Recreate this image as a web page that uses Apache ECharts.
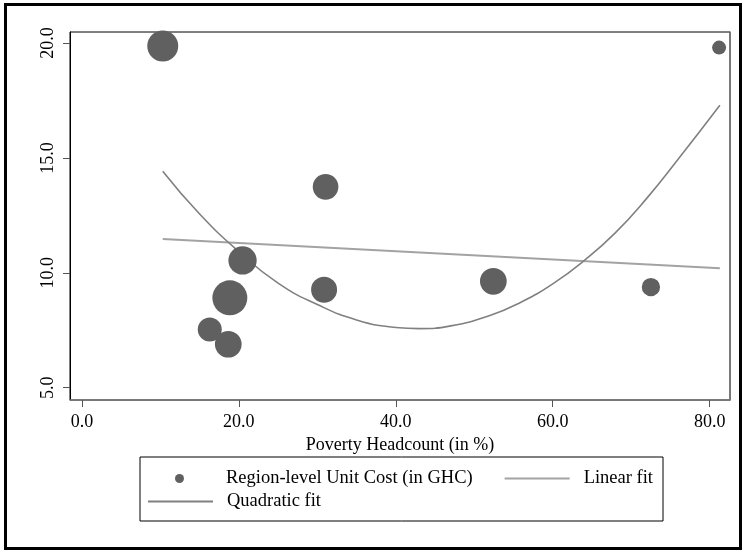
<!doctype html>
<html>
	<head>
		<meta charset="utf-8">
		<title>Unit cost vs poverty headcount</title>
		<style>
			html, body { margin: 0; padding: 0; background: #fff; }
			#chart { width: 746px; height: 555px; }
		</style>
	</head>
	<body>
		<script src="https://cdn.jsdelivr.net/npm/echarts@6/dist/echarts.min.js"></script>

		<div id="chart"></div>

		<script>
			// region-level points (x = poverty headcount %, y = unit cost GHC, w = bubble weight)
			const povertyX = [10.3, 31.05, 20.47, 18.85, 30.86, 16.29, 18.65, 52.43, 72.51, 81.2];
			const unitCost = [19.87, 13.74, 10.54, 8.91, 9.26, 7.53, 6.89, 9.63, 9.38, 19.8];
			const weights  = [240, 165, 200, 306, 169, 144, 178, 178, 84, 49];

			// fitted lines
			const linearX = [10.3, 81.3];
			const linearY = [11.47, 10.2];
			const quadX = [10.3, 15, 20, 25, 30, 35, 40, 43, 47, 52, 56, 60, 64, 68, 72, 76, 81.3];
			const quadY = [14.42, 12.56, 10.92, 9.55, 8.62, 7.95, 7.62, 7.57, 7.69, 8.14, 8.73, 9.52, 10.53, 11.75, 13.25, 14.95, 17.29];

			const xTicks = [0, 20, 40, 60, 80];
			const yTicks = [5, 10, 15, 20];

			const serif = "'Liberation Serif', 'Times New Roman', serif";

			let zip = (xs, ys) => xs.map((x, i) => [x, ys[i]]);

			let points = povertyX.map((x, i) => [x, unitCost[i], weights[i]]);

			let dom = document.getElementById("chart");
			let myChart = echarts.init(dom, null, { width: 746, height: 555, renderer: "canvas" });

			let legendText = {
				fontFamily: serif,
				fontSize: 18.5,
				color: "#000",
				padding: [0, 0, 0, 9]
			};

			// line keys: hide the symbol that echarts puts in the middle of a line key
			let noDot = { opacity: 0 };

			let opts = {
				animation: false,
				backgroundColor: "#fff",
				grid: {
					left: 70,
					top: 32,
					right: 16,
					bottom: 155,
					show: true,
					borderColor: "#000",
					borderWidth: 1
				},
				legend: [
					{
						data: [
							{ name: "Region-level Unit Cost (in GHC)", icon: "circle" },
							{ name: "Linear fit", itemStyle: noDot }
						],
						left: 175,
						top: 469,
						orient: "horizontal",
						itemWidth: 65,
						itemHeight: 9,
						itemGap: 31,
						padding: 0,
						textStyle: legendText,
						selectedMode: false
					},
					{
						data: [{ name: "Quadratic fit", itemStyle: noDot }],
						left: 147,
						top: 492,
						orient: "horizontal",
						itemWidth: 65,
						itemHeight: 9,
						padding: 0,
						textStyle: legendText,
						selectedMode: false
					}
				],
				graphic: [
					{
						type: "rect",
						shape: { x: 140, y: 457, width: 523, height: 64 },
						style: { fill: "none", stroke: "#000", lineWidth: 1 },
						silent: true
					},
					{
						type: "rect",
						shape: { x: 5.5, y: 4.5, width: 735, height: 544 },
						style: { fill: "none", stroke: "#000", lineWidth: 3 },
						silent: true
					}
				],
				xAxis: {
					type: "value",
					min: -1.52,
					max: 82.59,
					name: "Poverty Headcount (in %)",
					nameLocation: "middle",
					nameGap: 27,
					nameTextStyle: { fontFamily: serif, fontSize: 18, color: "#000" },
					axisLine: { show: true, onZero: false, lineStyle: { color: "#777", width: 1.5 } },
					axisTick: {
						show: true,
						length: 7,
						customValues: xTicks,
						lineStyle: { color: "#555" }
					},
					axisLabel: {
						customValues: xTicks,
						margin: 13,
						fontFamily: serif,
						fontSize: 18,
						color: "#000",
						formatter: v => v.toFixed(1)
					},
					splitLine: { show: false }
				},
				yAxis: [
					{
						type: "value",
						min: 4.465,
						max: 20.478,
						axisLine: { show: true, onZero: false, lineStyle: { color: "#000", width: 1 } },
						axisTick: {
							show: true,
							length: 7,
							customValues: yTicks,
							lineStyle: { color: "#555" }
						},
						axisLabel: {
							customValues: yTicks,
							rotate: 90,
							margin: 13,
							fontFamily: serif,
							fontSize: 18,
							color: "#000",
							formatter: v => v.toFixed(1)
						},
						splitLine: { show: false }
					},
					{
						type: "value",
						position: "right",
						min: 4.465,
						max: 20.478,
						axisLine: { show: true, onZero: false, lineStyle: { color: "#777", width: 1.5 } },
						axisTick: { show: false },
						axisLabel: { show: false },
						splitLine: { show: false }
					}
				],
				series: [
					{
						name: "Region-level Unit Cost (in GHC)",
						type: "scatter",
						z: 3,
						data: points,
						symbolSize: d => 2 * Math.sqrt(d[2]),
						itemStyle: { color: "#606060", opacity: 1 }
					},
					{
						name: "Linear fit",
						type: "line",
						z: 2,
						data: zip(linearX, linearY),
						showSymbol: false,
						symbol: "none",
						lineStyle: { color: "#a3a3a3", width: 2 },
						itemStyle: { color: "#a3a3a3" }
					},
					{
						name: "Quadratic fit",
						type: "line",
						z: 2,
						data: zip(quadX, quadY),
						smooth: true,
						showSymbol: false,
						symbol: "none",
						lineStyle: { color: "#808080", width: 1.6 },
						itemStyle: { color: "#808080" }
					}
				]
			};

			myChart.setOption(opts);
		</script>
	</body>
</html>
